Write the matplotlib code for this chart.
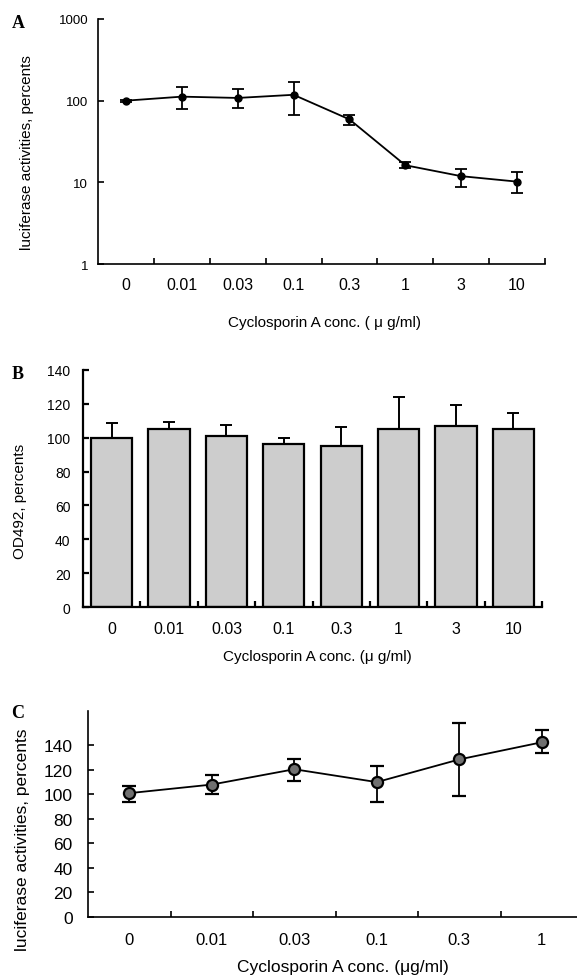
# -*- coding: utf-8 -*-
""" Cyclosporin A dose response, three panels
"""

import matplotlib
matplotlib.use("Agg")
import matplotlib.pyplot as plt
from matplotlib.ticker import FixedLocator, NullFormatter, FixedFormatter
import numpy

out_png_path = "out.png"

# Panel A - luciferase activity (log scale)
conc_a = ["0", "0.01", "0.03", "0.1", "0.3", "1", "3", "10"]
luc_a = [100, 112, 108, 118, 59, 16.2, 11.9, 10.2]
luc_a_hi = [103, 146, 138, 168, 67, 17.9, 14.7, 13.2]
luc_a_lo = [97, 79, 82, 66, 50, 15.0, 8.8, 7.4]

# Panel B - OD492 (cell viability)
conc_b = ["0", "0.01", "0.03", "0.1", "0.3", "1", "3", "10"]
od_b = [100, 105, 101, 96, 95, 105, 107, 105]
od_b_hi = [108.4, 109, 107.6, 100, 106.6, 124.3, 119.6, 114.7]

# Panel C - luciferase activity (linear)
conc_c = ["0", "0.01", "0.03", "0.1", "0.3", "1"]
luc_c = [101, 108, 120.5, 110, 128.5, 142.5]
luc_c_hi = [107, 116, 129, 123, 158, 152.5]
luc_c_lo = [94, 100, 111, 94, 99, 134]

W, H = 577.0, 979.0

plt.rcParams["font.family"] = ["Liberation Sans", "DejaVu Sans"]


def fx(px):
    return px / W


def fy(py):
    return 1 - py / H


def style_axes(ax, n, spine_lw):
    for side in ("top", "right"):
        ax.spines[side].set_visible(False)
    for side in ("left", "bottom"):
        ax.spines[side].set_linewidth(spine_lw)

    ax.set_xlim(-0.5, n - 0.5)
    # tick marks sit between the categories, labels under them
    ax.xaxis.set_major_locator(FixedLocator(numpy.arange(n)))
    ax.xaxis.set_minor_locator(FixedLocator(numpy.arange(n) + 0.5))
    ax.xaxis.set_minor_formatter(NullFormatter())
    ax.tick_params(axis="x", which="major", length=0)
    ax.tick_params(axis="x", which="minor", direction="in", length=4,
                   width=spine_lw)
    ax.tick_params(axis="y", which="major", direction="in", length=4,
                   width=spine_lw)
    ax.tick_params(axis="y", which="minor", length=0)


def panel_letter(fig, letter, x, y):
    fig.text(fx(x), fy(y), letter, family="Liberation Serif",
             fontweight="bold", fontsize=13, ha="center", va="center")


def chart_a(fig):
    ax = fig.add_axes([fx(98), fy(265), fx(447), 245 / H])
    x = numpy.arange(len(conc_a))
    vals = numpy.array(luc_a)
    yerr = [vals - numpy.array(luc_a_lo), numpy.array(luc_a_hi) - vals]
    ax.errorbar(x, vals, yerr=yerr, color="black", lw=1.3, marker="o",
                ms=5, capsize=4, elinewidth=1.3, capthick=1.3)
    ax.set_yscale("log")
    ax.set_ylim(1, 1000)
    style_axes(ax, len(conc_a), 1.2)
    ax.yaxis.set_major_locator(FixedLocator([1, 10, 100, 1000]))
    ax.yaxis.set_major_formatter(FixedFormatter(["1", "10", "100", "1000"]))
    ax.set_xticklabels(conc_a)
    ax.tick_params(axis="x", labelsize=11.5, pad=9)
    ax.tick_params(axis="y", labelsize=9.5, pad=7)

    ax.set_ylabel("luciferase activities, percents", fontsize=11,
                  va="center", ha="center")
    ax.yaxis.set_label_coords(fx(27.5), fy(153), transform=fig.transFigure)
    ax.set_xlabel("Cyclosporin A conc. ( \u03bc g/ml)", fontsize=11,
                  va="center", ha="center")
    ax.xaxis.set_label_coords(fx(325), fy(323), transform=fig.transFigure)
    panel_letter(fig, "A", 18, 24)


def chart_b(fig):
    ax = fig.add_axes([fx(83), fy(608), fx(459), 237 / H])
    x = numpy.arange(len(conc_b))
    vals = numpy.array(od_b)
    up = numpy.array(od_b_hi) - vals
    ax.bar(x, vals, width=0.72, color="#cdcdcd", edgecolor="black",
           linewidth=1.6, zorder=2)
    # error bars only go upwards
    ax.errorbar(x, vals, yerr=[numpy.zeros_like(up), up], fmt="none",
                ecolor="black", elinewidth=1.4, capsize=4, capthick=1.4,
                zorder=3)
    ax.set_ylim(0, 140)
    ax.set_yticks(numpy.arange(0, 141, 20))
    style_axes(ax, len(conc_b), 1.6)
    ax.set_xticklabels(conc_b)
    ax.tick_params(axis="x", labelsize=11.5, pad=10)
    ax.tick_params(axis="y", labelsize=10, pad=9)

    ax.set_ylabel("OD492, percents", fontsize=11, va="center", ha="center")
    ax.yaxis.set_label_coords(fx(20), fy(501), transform=fig.transFigure)
    ax.set_xlabel("Cyclosporin A conc. (\u03bc g/ml)", fontsize=11,
                  va="center", ha="center")
    ax.xaxis.set_label_coords(fx(317), fy(657), transform=fig.transFigure)
    panel_letter(fig, "B", 18, 375)


def chart_c(fig):
    # the x axis runs off the right edge of the page in the original
    ax = fig.add_axes([fx(88), fy(918), fx(495), 206 / H])
    x = numpy.arange(len(conc_c))
    vals = numpy.array(luc_c)
    yerr = [vals - numpy.array(luc_c_lo), numpy.array(luc_c_hi) - vals]
    ax.errorbar(x, vals, yerr=yerr, color="black", lw=1.3, marker="o",
                ms=8, mfc="#707070", mec="black", mew=1.6, capsize=5,
                elinewidth=1.3, capthick=1.3)
    ax.set_ylim(0, 168)
    ax.set_yticks(numpy.arange(0, 141, 20))
    style_axes(ax, len(conc_c), 1.2)
    ax.set_xticklabels(conc_c)
    ax.tick_params(axis="x", labelsize=12, pad=11)
    ax.tick_params(axis="y", labelsize=12.5, pad=11)

    ax.set_ylabel("luciferase activities, percents", fontsize=12.5,
                  va="center", ha="center")
    ax.yaxis.set_label_coords(fx(23), fy(840), transform=fig.transFigure)
    ax.set_xlabel("Cyclosporin A conc. (\u03bcg/ml)", fontsize=12.5,
                  va="center", ha="center")
    ax.xaxis.set_label_coords(fx(343), fy(968), transform=fig.transFigure)
    panel_letter(fig, "C", 18, 714)


if __name__ == "__main__":
    fig = plt.figure(figsize=(W / 100, H / 100), dpi=100)
    chart_a(fig)
    chart_b(fig)
    chart_c(fig)
    fig.savefig(out_png_path, dpi=100)
